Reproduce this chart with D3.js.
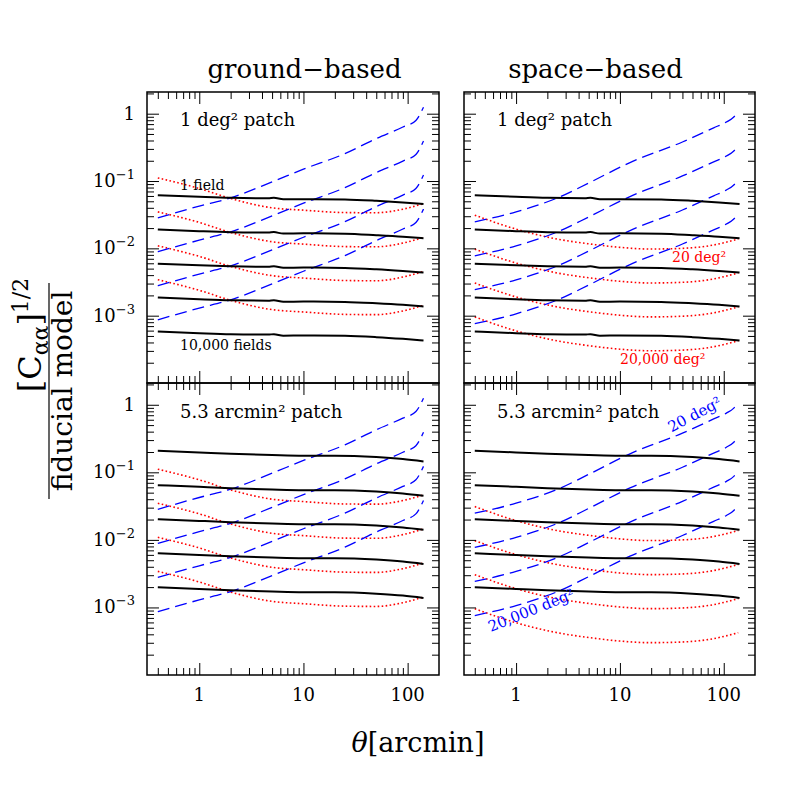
<!DOCTYPE html>
<html><head><meta charset="utf-8">
<script src="https://cdn.jsdelivr.net/npm/d3@7"></script>
<style>body{margin:0;background:#fff}svg{display:block}</style>
</head><body>
<svg id="c" width="797" height="797"></svg>
<script>
// ---------------- data ----------------
const thetaBlackTop = [0.4, 1, 2, 4.6, 5.2, 6.4, 10, 25, 50, 90, 142];
const blackTop1     = [0.0617, 0.0582, 0.0562, 0.0555, 0.0562, 0.0535, 0.0538, 0.0532, 0.0508, 0.0480, 0.0454];
const blackTop10    = [0.0191, 0.0180, 0.0174, 0.01718, 0.01742, 0.01656, 0.0167, 0.0165, 0.0157, 0.0149, 0.0141];
const blackTop100   = [0.00593, 0.00560, 0.00541, 0.00533, 0.00541, 0.00514, 0.00518, 0.00512, 0.00489, 0.00461, 0.00437];
const blackTop1000  = [0.00186, 0.00175, 0.00169, 0.00167, 0.00169, 0.00161, 0.00162, 0.00160, 0.00153, 0.00145, 0.00137];
const blackTop10000 = [0.000582, 0.000550, 0.000531, 0.000524, 0.000531, 0.000505, 0.000508, 0.000502, 0.000480, 0.000453, 0.000429];

const thetaBlackBot = [0.4, 1, 2, 5, 10, 20, 50, 90, 142];
const blackBot1     = [0.208, 0.197, 0.188, 0.180, 0.176, 0.176, 0.168, 0.157, 0.145];
const blackBot10    = [0.0646, 0.0610, 0.0583, 0.0557, 0.0545, 0.0545, 0.0520, 0.0486, 0.0449];
const blackBot100   = [0.0202, 0.0191, 0.0183, 0.0175, 0.0171, 0.0171, 0.0163, 0.0152, 0.0141];
const blackBot1000  = [0.00634, 0.00598, 0.00573, 0.00547, 0.00535, 0.00535, 0.00511, 0.00478, 0.00441];
const blackBot10000 = [0.00199, 0.00188, 0.00180, 0.00172, 0.00168, 0.00168, 0.00160, 0.00150, 0.00138];

const thetaBlueL = [0.4, 1, 2, 5, 10, 25, 50, 90, 120, 142];
const blueL1 = [0.0284, 0.0424, 0.0562, 0.0970, 0.150, 0.255, 0.427, 0.634, 0.794, 1.25];
const blueL2 = [0.00889, 0.01324, 0.01758, 0.0303, 0.0468, 0.0798, 0.1334, 0.198, 0.248, 0.392];
const blueL3 = [0.00278, 0.00414, 0.00550, 0.00948, 0.01462, 0.0249, 0.0417, 0.0619, 0.0776, 0.1225];
const blueL4 = [0.000869, 0.001294, 0.001718, 0.002965, 0.004571, 0.0078, 0.01303, 0.01936, 0.02427, 0.03828];

const thetaBlueR = [0.4, 1, 2.65, 5, 12.5, 40, 80, 106, 125, 138];
const blueR1 = [0.0248, 0.0349, 0.0582, 0.0933, 0.188, 0.380, 0.617, 0.752, 0.891, 1.07];
const blueR2 = [0.00776, 0.01091, 0.0182, 0.0292, 0.0588, 0.1189, 0.1928, 0.235, 0.279, 0.335];
const blueR3 = [0.00243, 0.00341, 0.00569, 0.00912, 0.01837, 0.03715, 0.0603, 0.0735, 0.0871, 0.1047];
const blueR4 = [0.000759, 0.001067, 0.001778, 0.002851, 0.005741, 0.01161, 0.01884, 0.02296, 0.02723, 0.03273];

const thetaRedL = [0.4, 1, 2, 5, 10, 25, 50, 90, 142];
const redL1 = [0.1112, 0.0774, 0.0550, 0.0400, 0.0369, 0.0340, 0.0338, 0.0382, 0.0463];
const redL2 = [0.0348, 0.0243, 0.0172, 0.01253, 0.01156, 0.01062, 0.01055, 0.01197, 0.01452];
const redL3 = [0.01091, 0.00760, 0.00540, 0.00393, 0.00362, 0.00333, 0.00330, 0.00375, 0.00455];
const redL4 = [0.00342, 0.00238, 0.00169, 0.00123, 0.001135, 0.001045, 0.001035, 0.001175, 0.001426];

const thetaRedR = [0.4, 1, 2.3, 5.5, 10, 19.4, 40, 73, 138];
const redR1 = [0.0311, 0.0193, 0.01406, 0.01146, 0.01035, 0.00977, 0.0100, 0.01094, 0.01374];
const redR2 = [0.00975, 0.00605, 0.00441, 0.00359, 0.00324, 0.00306, 0.00313, 0.00343, 0.00431];
const redR3 = [0.003055, 0.001897, 0.00138, 0.001125, 0.001016, 0.000959, 0.000982, 0.001074, 0.001349];
const redR4 = [0.000957, 0.000594, 0.000433, 0.000352, 0.000318, 0.000301, 0.000308, 0.000337, 0.000423];

const columnTitles = ["ground\u2212based", "space\u2212based"];
const patchLabels = ["1 deg\u00b2 patch", "5.3 arcmin\u00b2 patch"];
const xTickLabels = [1, 10, 100];
const yTickExps = [0, -1, -2, -3];

// ---------------- drawing ----------------
const FONT = "'DejaVu Serif', serif";
const svg = d3.select('#c');
svg.append('rect').attr('width', 797).attr('height', 797).attr('fill', '#fff');

const zip = (xs, ys) => xs.map((v, i) => [v, ys[i]]);
const blackTop = [blackTop1, blackTop10, blackTop100, blackTop1000, blackTop10000].map(s => zip(thetaBlackTop, s));
const blackBot = [blackBot1, blackBot10, blackBot100, blackBot1000, blackBot10000].map(s => zip(thetaBlackBot, s));
const blueL = [blueL1, blueL2, blueL3, blueL4].map(s => zip(thetaBlueL, s));
const blueR = [blueR1, blueR2, blueR3, blueR4].map(s => zip(thetaBlueR, s));
const redL = [redL1, redL2, redL3, redL4].map(s => zip(thetaRedL, s));
const redR = [redR1, redR2, redR3, redR4].map(s => zip(thetaRedR, s));

const panels = [
  {col: 0, row: 0, black: blackTop, blue: blueL, red: redL},
  {col: 1, row: 0, black: blackTop, blue: blueR, red: redR},
  {col: 0, row: 1, black: blackBot, blue: blueL, red: redL},
  {col: 1, row: 1, black: blackBot, blue: blueR, red: redR}
];
const colX = [[147, 439], [464, 755]];
const rowY = [[92, 383], [383, 675]];

const isMajor = v => Math.abs(Math.log10(v) - Math.round(Math.log10(v))) < 1e-6;

panels.forEach((p, pi) => {
  const [x0, x1] = colX[p.col];
  const [y0, y1] = rowY[p.row];
  const x = d3.scaleLog().domain([0.315, 200]).range([x0, x1]);
  const y = d3.scaleLog().domain([1e-4, 2.1]).range([y1, y0]);
  const g = svg.append('g');
  const clipId = 'clip' + pi;
  g.append('clipPath').attr('id', clipId).append('rect')
    .attr('x', x0).attr('y', y0).attr('width', x1 - x0).attr('height', y1 - y0);
  const line = d3.line().x(d => x(d[0])).y(d => y(d[1])).curve(d3.curveMonotoneX);
  const lg = g.append('g').attr('clip-path', `url(#${clipId})`);

  lg.selectAll('path.red').data(p.red).join('path').attr('class', 'red')
    .attr('d', line).attr('fill', 'none').attr('stroke', '#ff0000')
    .attr('stroke-width', 1.6).attr('stroke-dasharray', '1.6,2.4');
  lg.selectAll('path.blue').data(p.blue).join('path').attr('class', 'blue')
    .attr('d', line).attr('fill', 'none').attr('stroke', '#0000ff')
    .attr('stroke-width', 1.3).attr('stroke-dasharray', '12,6');
  lg.selectAll('path.black').data(p.black).join('path').attr('class', 'black')
    .attr('d', line).attr('fill', 'none').attr('stroke', '#000')
    .attr('stroke-width', 2);

  // ticks via d3 axes (inward)
  const xt = x.ticks().filter(v => v > 0.316 && v < 199);
  const yt = y.ticks().filter(v => v > 1.01e-4 && v < 2.09);
  const xMaj = xt.filter(isMajor), xMin = xt.filter(v => !isMajor(v));
  const yMaj = yt.filter(isMajor), yMin = yt.filter(v => !isMajor(v));
  const mk = (axis, vals, len, tr) => {
    const a = g.append('g').attr('transform', tr)
      .call(axis.tickValues(vals).tickSizeInner(-len).tickSizeOuter(0).tickFormat(''));
    a.select('.domain').remove();
    a.selectAll('line').attr('stroke', '#000').attr('stroke-width', 1);
  };
  mk(d3.axisBottom(x), xMaj, 12, `translate(0,${y1})`);
  mk(d3.axisBottom(x), xMin, 7, `translate(0,${y1})`);
  mk(d3.axisTop(x), xMaj, 12, `translate(0,${y0})`);
  mk(d3.axisTop(x), xMin, 7, `translate(0,${y0})`);
  mk(d3.axisLeft(y), yMaj, 12, `translate(${x0},0)`);
  mk(d3.axisLeft(y), yMin, 7, `translate(${x0},0)`);
  mk(d3.axisRight(y), yMaj, 12, `translate(${x1},0)`);
  mk(d3.axisRight(y), yMin, 7, `translate(${x1},0)`);

  g.append('rect').attr('x', x0).attr('y', y0).attr('width', x1 - x0).attr('height', y1 - y0)
    .attr('fill', 'none').attr('stroke', '#000').attr('stroke-width', 1.5);

  // tick labels
  if (p.row === 1) {
    g.selectAll('text.xl').data(xTickLabels).join('text').attr('class', 'xl')
      .attr('x', d => x(d)).attr('y', 701).attr('text-anchor', 'middle')
      .attr('font-family', FONT).attr('font-size', 18).text(d => d);
  }
  if (p.col === 0) {
    yTickExps.forEach(e => {
      const t = g.append('text').attr('x', x0 - 12).attr('y', y(Math.pow(10, e)) + 6)
        .attr('text-anchor', 'end').attr('font-family', FONT).attr('font-size', 18);
      if (e === 0) t.text('1');
      else {
        t.append('tspan').text('10');
        t.append('tspan').attr('font-size', 13).attr('dy', -8).text('\u2212' + (-e));
      }
    });
  }

  // panel text
  g.append('text').attr('x', p.col ? 497 : 180).attr('y', p.row ? 418 : 126)
    .attr('font-family', FONT).attr('font-size', 18).text(patchLabels[p.row]);
});

// in-panel annotations
const ann = (x, y, txt, color, rot, size) => {
  svg.append('text').attr('transform', `translate(${x},${y}) rotate(${rot})`)
    .attr('text-anchor', 'middle').attr('font-family', FONT).attr('font-size', size)
    .attr('fill', color).text(txt);
};
svg.append('text').attr('x', 180).attr('y', 190).attr('font-family', FONT).attr('font-size', 14).text('1 field');
svg.append('text').attr('x', 180).attr('y', 350).attr('font-family', FONT).attr('font-size', 14).text('10,000 fields');
svg.append('text').attr('x', 672).attr('y', 262).attr('font-family', FONT).attr('font-size', 14).attr('fill', '#ff0000').text('20 deg\u00b2');
svg.append('text').attr('x', 620).attr('y', 364).attr('font-family', FONT).attr('font-size', 14).attr('fill', '#ff0000').text('20,000 deg\u00b2');
ann(697, 419, '20 deg\u00b2', '#0000ff', -28, 15);
ann(533, 615, '20,000 deg\u00b2', '#0000ff', -22, 15);

// column titles
columnTitles.forEach((t, i) => {
  svg.append('text').attr('x', i ? 595.5 : 304.5).attr('y', 78).attr('text-anchor', 'middle')
    .attr('font-family', FONT).attr('font-size', 26).text(t);
});

// x axis title
const xt = svg.append('text').attr('x', 418).attr('y', 752).attr('text-anchor', 'middle')
  .attr('font-family', FONT).attr('font-size', 27);
xt.append('tspan').attr('font-style', 'italic').text('\u03b8');
xt.append('tspan').text('[arcmin]');

// y axis title (fraction)
const yl = svg.append('g').attr('transform', 'translate(0,391) rotate(-90)');
const num = yl.append('text').attr('x', 56).attr('y', 41).attr('text-anchor', 'middle')
  .attr('font-family', FONT).attr('font-size', 32);
num.append('tspan').text('[C');
num.append('tspan').attr('font-size', 22).attr('dy', 7).text('\u03b1\u03b1');
num.append('tspan').attr('dy', -7).text(']');
num.append('tspan').attr('font-size', 22).attr('dy', -13).text('1/2');
yl.append('line').attr('x1', -108).attr('x2', 108).attr('y1', 49).attr('y2', 49)
  .attr('stroke', '#000').attr('stroke-width', 1.2);
yl.append('text').attr('x', 0).attr('y', 72).attr('text-anchor', 'middle')
  .attr('font-family', FONT).attr('font-size', 28).text('fiducial model');
</script>
</body></html>
